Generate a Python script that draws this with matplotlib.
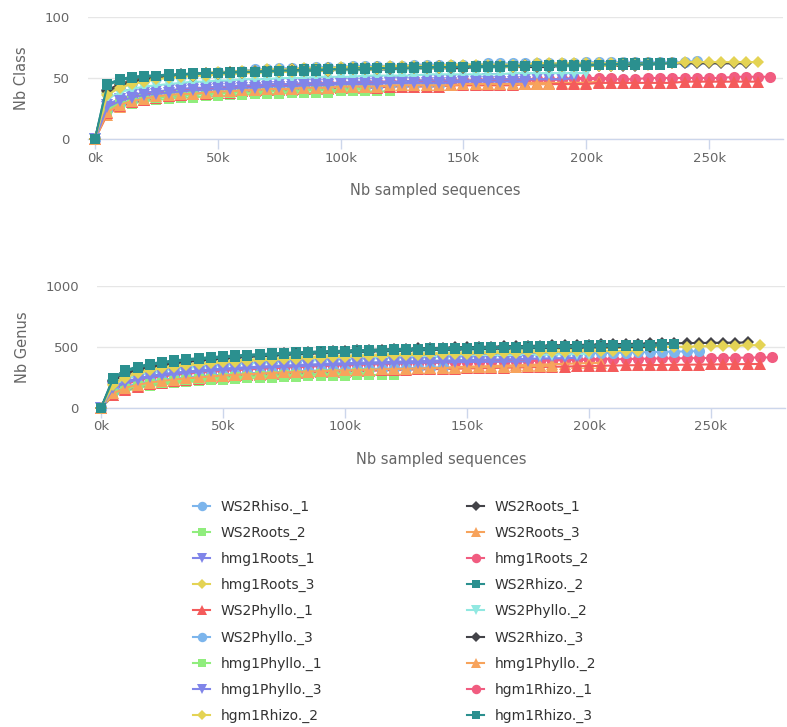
import numpy as np
import matplotlib
matplotlib.use("Agg")
import matplotlib.pyplot as plt
from matplotlib.lines import Line2D

# Rarefaction step between sampled points (sequences)
STEP = 5000

names = [
    "WS2Rhiso._1", "WS2Roots_1", "WS2Roots_2", "WS2Roots_3",
    "hmg1Roots_1", "hmg1Roots_2", "hmg1Roots_3", "WS2Rhizo._2",
    "WS2Phyllo._1", "WS2Phyllo._2", "WS2Phyllo._3", "WS2Rhizo._3",
    "hmg1Phyllo._1", "hmg1Phyllo._2", "hmg1Phyllo._3", "hgm1Rhizo._1",
    "hgm1Rhizo._2", "hgm1Rhizo._3",
]

# ---- Number of classes observed at each sampling depth ----
class_WS2Rhiso_1 = [0, 37, 43, 46, 48, 50, 51, 52, 53, 54, 55, 55, 56, 57, 57, 58, 58, 58, 59, 59,
                    59, 60, 60, 60, 60, 60, 61, 61, 61, 61, 61, 61, 62, 62, 62, 62, 62, 62, 62, 62,
                    63, 63, 63, 63, 63, 63, 63, 63, 63, 64]
class_WS2Roots_1 = [0, 40, 45, 48, 50, 51, 52, 53, 53, 54, 54, 55, 55, 56, 56, 56, 57, 57, 57, 58,
                    58, 58, 58, 59, 59, 59, 59, 59, 60, 60, 60, 60, 60, 60, 60, 61, 61, 61, 61, 61,
                    61, 61, 61, 61, 62, 62, 62, 62, 62, 62, 62, 62, 62, 62]
class_WS2Roots_2 = [0, 22, 27, 29, 31, 32, 33, 34, 34, 35, 35, 36, 36, 37, 37, 37, 38, 38, 38, 38,
                    39, 39, 39, 39, 39]
class_WS2Roots_3 = [0, 20, 26, 30, 32, 34, 35, 36, 37, 38, 38, 39, 39, 40, 40, 41, 41, 41, 42, 42,
                    42, 43, 43, 43, 43, 44, 44, 44, 44, 44, 45, 45, 45, 45, 45, 46, 46, 46, 46, 46,
                    46, 47]
class_hmg1Roots_1 = [0, 28, 33, 36, 38, 39, 40, 41, 42, 42, 43, 43, 44, 44, 45, 45, 45, 46, 46, 46,
                     46, 47, 47, 47, 47, 47, 48, 48, 48, 48, 48, 48, 49, 49, 49, 49, 49, 49, 49, 50]
class_hmg1Roots_2 = [0, 26, 31, 34, 36, 37, 38, 39, 40, 41, 41, 42, 42, 43, 43, 44, 44, 44, 45, 45,
                     45, 45, 46, 46, 46, 46, 47, 47, 47, 47, 47, 48, 48, 48, 48, 48, 48, 48, 49, 49,
                     49, 49, 49, 49, 49, 50, 50, 50, 50, 50, 50, 50, 51, 51, 51, 51]
class_hmg1Roots_3 = [0, 38, 44, 47, 49, 50, 51, 52, 53, 54, 55, 55, 56, 56, 57, 57, 57, 58, 58, 58,
                     59, 59, 59, 59, 60, 60, 60, 60, 60, 61, 61, 61, 61, 61, 61, 61, 62, 62, 62, 62,
                     62, 62, 62, 62, 62, 62, 62, 62, 63, 63, 63, 63, 63, 63, 63]
class_WS2Rhizo_2 = [0, 45, 49, 51, 52, 52, 53, 53, 54, 54, 54, 55, 55, 55, 56, 56, 56, 57, 57, 57,
                    57, 58, 58, 58, 58, 58, 59, 59, 59, 59, 59, 60, 60, 60, 60, 60, 60, 61, 61, 61,
                    61, 61, 61, 62, 62, 62, 62, 62]
class_WS2Phyllo_1 = [0, 21, 27, 30, 32, 34, 35, 36, 37, 37, 38, 38, 39, 39, 40, 40, 40, 41, 41, 41,
                     42, 42, 42, 42, 43, 43, 43, 43, 43, 44, 44, 44, 44, 44, 44, 45, 45, 45, 45, 45,
                     45, 46, 46, 46, 46, 46, 46, 46, 47, 47, 47, 47, 47, 47, 47]
class_WS2Phyllo_2 = [0, 33, 38, 41, 43, 44, 45, 46, 47, 47, 48, 48, 49, 49, 49, 50, 50, 50, 51, 51,
                     51, 51, 52, 52, 52, 52, 52, 53, 53, 53, 53, 53, 53, 53, 54, 54, 54, 54, 54, 54,
                     54]
class_WS2Phyllo_3 = [0, 24, 29, 32, 34, 35, 36, 37, 38, 38, 39, 39, 40, 40, 41, 41, 41, 42, 42, 42,
                     43, 43, 43, 43, 44, 44, 44, 44, 44]
class_WS2Rhizo_3 = [0, 39, 44, 47, 49, 50, 51, 52, 52, 53, 53, 54, 54, 55, 55, 55, 56, 56, 56, 56,
                    57, 57, 57, 57, 57, 58, 58, 58, 58, 58, 58, 59, 59, 59, 59, 59, 59, 59, 60, 60,
                    60, 60, 60, 60, 60]
class_hmg1Phyllo_1 = [0, 25, 29, 31, 33, 34, 35, 36, 36, 37, 37, 38, 38, 38, 39, 39, 39, 40, 40, 40,
                      40, 41, 41]
class_hmg1Phyllo_2 = [0, 22, 28, 31, 33, 35, 36, 37, 37, 38, 39, 39, 40, 40, 41, 41, 41, 42, 42, 42,
                      43, 43, 43, 43, 44, 44, 44, 44, 44, 44, 45, 45, 45, 45, 45, 45, 45, 45]
class_hmg1Phyllo_3 = [0, 26, 31, 34, 36, 37, 38, 39, 40, 40, 41, 41, 42, 42, 43, 43, 43, 44, 44, 44,
                      45, 45, 45, 45, 46, 46, 46, 46, 46, 46, 47, 47, 47, 47, 47, 47]
class_hgm1Rhizo_1 = [0, 27, 32, 35, 37, 38, 39, 40, 41, 42, 42, 43, 43, 44, 44, 45, 45, 45, 46, 46,
                     46, 46, 47, 47, 47, 47, 48, 48, 48, 48, 48, 48, 49, 49, 49, 49, 49, 49, 49, 50,
                     50, 50, 50]
class_hgm1Rhizo_2 = [0, 36, 42, 45, 47, 49, 50, 51, 52, 52, 53, 53, 54, 54, 55, 55, 55, 56, 56, 56,
                     57, 57, 57, 57, 58, 58, 58, 58, 58, 59, 59, 59, 59, 59, 59, 60, 60, 60, 60, 60,
                     60, 60, 60, 61, 61, 61]
class_hgm1Rhizo_3 = [0, 44, 48, 50, 51, 52, 52, 53, 53, 54, 54, 54, 55, 55, 55, 56, 56, 56, 56, 57,
                     57, 57, 57, 58, 58, 58, 58, 58, 59, 59, 59, 59, 59, 59, 60, 60, 60, 60, 60, 60,
                     60, 61, 61, 61, 61, 61, 61]

# ---- Number of genera observed at each sampling depth ----
genus_WS2Rhiso_1 = [0, 180, 235, 268, 290, 307, 320, 331, 340, 348, 355, 362, 368, 373, 378, 383,
                    387, 391, 395, 399, 402, 405, 408, 411, 414, 417, 420, 422, 424, 426, 428, 430,
                    432, 434, 436, 438, 440, 442, 444, 446, 448, 450, 452, 454, 456, 458, 460, 462,
                    464, 466]
genus_WS2Roots_1 = [0, 230, 290, 323, 346, 363, 377, 389, 399, 408, 416, 423, 430, 436, 442, 447,
                    452, 457, 461, 465, 469, 473, 476, 479, 482, 485, 488, 491, 494, 497, 499, 501,
                    503, 505, 507, 509, 511, 513, 515, 517, 519, 521, 523, 525, 527, 529, 530, 531,
                    532, 533, 534, 535, 536, 537]
genus_WS2Roots_2 = [0, 100, 140, 163, 180, 193, 203, 212, 219, 226, 232, 237, 242, 246, 250, 253,
                    256, 259, 262, 264, 266, 268, 270, 272, 274]
genus_WS2Roots_3 = [0, 110, 155, 182, 200, 215, 227, 237, 246, 254, 261, 267, 273, 278, 283, 288,
                    292, 296, 300, 304, 308, 311, 314, 317, 320, 323, 326, 329, 332, 335, 338, 341,
                    344, 347, 350, 353, 356, 359, 362, 365, 368, 371]
genus_hmg1Roots_1 = [0, 170, 215, 243, 262, 277, 289, 299, 308, 316, 323, 329, 334, 339, 344, 348,
                     352, 356, 360, 364, 367, 370, 373, 376, 379, 382, 385, 387, 389, 391, 393, 395,
                     397, 399, 401, 403, 405, 407, 409, 411]
genus_hmg1Roots_2 = [0, 150, 195, 223, 243, 258, 270, 280, 289, 297, 304, 310, 316, 321, 326, 331,
                     335, 339, 343, 347, 350, 353, 356, 359, 362, 365, 367, 369, 371, 373, 375, 377,
                     379, 381, 383, 385, 387, 389, 391, 393, 395, 397, 399, 401, 403, 405, 406, 407,
                     408, 409, 410, 411, 412, 413, 414, 415]
genus_hmg1Roots_3 = [0, 200, 260, 295, 318, 335, 348, 359, 368, 376, 383, 390, 396, 401, 406, 411,
                     415, 419, 423, 427, 430, 433, 436, 439, 442, 445, 447, 450, 452, 455, 458, 461,
                     464, 467, 470, 473, 476, 479, 482, 485, 487, 489, 491, 493, 495, 497, 499, 501,
                     503, 505, 507, 509, 511, 513, 515]
genus_WS2Rhizo_2 = [0, 250, 310, 340, 362, 378, 390, 400, 409, 417, 424, 431, 437, 442, 447, 452,
                    456, 460, 464, 467, 470, 473, 476, 479, 482, 484, 487, 489, 491, 493, 495, 497,
                    499, 501, 503, 505, 507, 508, 510, 511, 513, 514, 516, 517, 519, 520, 522, 523]
genus_WS2Phyllo_1 = [0, 105, 148, 175, 194, 209, 221, 231, 240, 248, 255, 261, 267, 272, 277, 281,
                     285, 289, 293, 296, 299, 302, 305, 308, 311, 314, 316, 318, 320, 322, 324, 326,
                     328, 330, 332, 334, 336, 338, 340, 342, 344, 346, 348, 350, 351, 352, 353, 354,
                     355, 356, 357, 358, 359, 360, 361]
genus_WS2Phyllo_2 = [0, 190, 240, 270, 290, 305, 317, 328, 337, 345, 352, 359, 365, 370, 375, 380,
                     384, 388, 392, 396, 399, 402, 405, 408, 411, 414, 416, 418, 420, 422, 424, 426,
                     428, 430, 432, 434, 436, 438, 440, 442, 444]
genus_WS2Phyllo_3 = [0, 130, 175, 200, 218, 232, 243, 252, 260, 267, 273, 279, 284, 289, 293, 297,
                     301, 305, 308, 311, 314, 317, 320, 322, 324, 326, 328, 330, 332]
genus_WS2Rhizo_3 = [0, 220, 280, 313, 336, 353, 367, 378, 388, 397, 405, 412, 418, 424, 430, 435,
                    440, 444, 448, 452, 456, 459, 462, 465, 468, 471, 473, 475, 477, 479, 481, 483,
                    485, 487, 489, 491, 492, 493, 494, 495, 496, 497, 498, 499, 500, 501]
genus_hmg1Phyllo_1 = [0, 115, 155, 178, 195, 208, 218, 227, 234, 241, 247, 252, 257, 261, 265, 268,
                      271, 274, 277, 280, 282, 284, 286]
genus_hmg1Phyllo_2 = [0, 120, 165, 190, 208, 222, 233, 243, 251, 259, 266, 272, 277, 282, 287, 291,
                      295, 299, 302, 305, 308, 311, 314, 317, 320, 322, 324, 326, 328, 330, 332, 334,
                      336, 338, 340, 342, 344, 346]
genus_hmg1Phyllo_3 = [0, 160, 205, 233, 252, 267, 279, 289, 298, 306, 313, 319, 324, 329, 334, 338,
                      342, 346, 350, 353, 356, 359, 362, 364, 366, 368, 370, 372, 374, 376, 377, 378,
                      379, 380, 381, 382]
genus_hgm1Rhizo_1 = [0, 155, 200, 228, 248, 263, 275, 285, 294, 302, 309, 315, 321, 326, 331, 336,
                     340, 344, 348, 352, 355, 358, 361, 364, 367, 370, 372, 374, 376, 378, 380, 382,
                     384, 386, 388, 390, 392, 394, 396, 398, 400, 402, 404]
genus_hgm1Rhizo_2 = [0, 190, 250, 285, 308, 325, 338, 349, 358, 366, 373, 380, 386, 391, 396, 401,
                     405, 409, 413, 417, 420, 423, 426, 429, 432, 435, 437, 440, 442, 444, 446, 448,
                     450, 452, 454, 456, 458, 460, 462, 464, 465, 466, 467, 468, 469]
genus_hgm1Rhizo_3 = [0, 240, 298, 330, 352, 368, 380, 390, 399, 407, 414, 421, 427, 432, 437, 442,
                     446, 450, 454, 457, 460, 463, 466, 469, 472, 474, 477, 479, 481, 483, 485, 487,
                     489, 491, 493, 495, 497, 498, 500, 501, 503, 504, 506, 507, 509, 510, 512]

class_series = [class_WS2Rhiso_1, class_WS2Roots_1, class_WS2Roots_2, class_WS2Roots_3,
                class_hmg1Roots_1, class_hmg1Roots_2, class_hmg1Roots_3, class_WS2Rhizo_2,
                class_WS2Phyllo_1, class_WS2Phyllo_2, class_WS2Phyllo_3, class_WS2Rhizo_3,
                class_hmg1Phyllo_1, class_hmg1Phyllo_2, class_hmg1Phyllo_3, class_hgm1Rhizo_1,
                class_hgm1Rhizo_2, class_hgm1Rhizo_3]
genus_series = [genus_WS2Rhiso_1, genus_WS2Roots_1, genus_WS2Roots_2, genus_WS2Roots_3,
                genus_hmg1Roots_1, genus_hmg1Roots_2, genus_hmg1Roots_3, genus_WS2Rhizo_2,
                genus_WS2Phyllo_1, genus_WS2Phyllo_2, genus_WS2Phyllo_3, genus_WS2Rhizo_3,
                genus_hmg1Phyllo_1, genus_hmg1Phyllo_2, genus_hmg1Phyllo_3, genus_hgm1Rhizo_1,
                genus_hgm1Rhizo_2, genus_hgm1Rhizo_3]

x_ticks = [0, 50000, 100000, 150000, 200000, 250000]
x_tick_labels = ["0k", "50k", "100k", "150k", "200k", "250k"]
class_ticks = [0, 50, 100]
genus_ticks = [0, 500, 1000]

# ---- Styling (Highcharts-like palette and symbols) ----
palette = ["#7cb5ec", "#434348", "#90ed7d", "#f7a35c", "#8085e9",
           "#f15c80", "#e4d354", "#2b908f", "#f45b5b", "#91e8e1"]
symbols = ["o", "D", "s", "^", "v"]
colors = [palette[i % len(palette)] for i in range(len(names))]
markers = [symbols[i % len(symbols)] for i in range(len(names))]
msizes = {"o": 8.0, "D": 6.4, "s": 7.6, "^": 8.0, "v": 8.0}
layer = [2 + i * 0.1 for i in range(len(names))]
layer[5] = 1.5   # pink curves sit underneath the others
layer[15] = 1.6

GRID = "#e6e6e6"
AXIS = "#ccd6eb"
LABEL = "#666666"

fig = plt.figure(figsize=(7.87, 7.27), dpi=100)
W, H = 787.0, 727.0


def make_axes(left, right, top, bottom):
    return fig.add_axes([left / W, 1 - bottom / H, (right - left) / W, (bottom - top) / H])


def style_axes(ax, yticks, ylabel, xlim):
    ax.set_xlim(*xlim)
    ax.set_ylim(yticks[0], yticks[-1])
    ax.set_yticks(yticks)
    ax.set_yticklabels([str(t) for t in yticks])
    ax.set_xticks(x_ticks)
    ax.set_xticklabels(x_tick_labels)
    for s in ("top", "right", "left"):
        ax.spines[s].set_visible(False)
    ax.spines["bottom"].set_color(AXIS)
    ax.spines["bottom"].set_linewidth(1.0)
    ax.spines["bottom"].set_zorder(0.5)
    ax.yaxis.grid(True, color=GRID, linewidth=1.0)
    ax.set_axisbelow(True)
    ax.tick_params(axis="y", length=0, pad=13, labelsize=9.5, labelcolor=LABEL)
    ax.tick_params(axis="x", length=7, width=1, color=AXIS, pad=2,
                   labelsize=9.5, labelcolor=LABEL)
    ax.set_xlabel("Nb sampled sequences", fontsize=10.5, color=LABEL, labelpad=13)
    ax.set_ylabel(ylabel, fontsize=10.5, color=LABEL, labelpad=11)


def draw(ax, series):
    for i, vals in enumerate(series):
        xs = np.arange(len(vals)) * STEP
        ax.plot(xs, vals, color=colors[i], lw=1.5, marker=markers[i],
                ms=msizes[markers[i]], mew=0,
                zorder=layer[i], clip_on=False)


ax1 = make_axes(88, 783, 17, 139)
draw(ax1, class_series)
style_axes(ax1, class_ticks, "Nb Class", (-2850, 280100))

ax2 = make_axes(97, 785, 286, 408)
draw(ax2, genus_series)
style_axes(ax2, genus_ticks, "Nb Genus", (-1640, 280300))

# ---- Legend in two columns, filled row by row ----
handles = [Line2D([0], [0], color=colors[i], lw=1.5, marker=markers[i],
                  ms=msizes[markers[i]] * 0.85, mew=0) for i in range(len(names))]
leg_kw = dict(frameon=False, fontsize=10, labelcolor="#333333", handlelength=1.25,
              handletextpad=0.75, labelspacing=0.86, borderpad=0, borderaxespad=0,
              loc="upper left")
left_idx = list(range(0, len(names), 2))
right_idx = list(range(1, len(names), 2))
fig.legend([handles[i] for i in left_idx], [names[i] for i in left_idx],
           bbox_to_anchor=(193 / W, 1 - 500 / H), **leg_kw)
fig.legend([handles[i] for i in right_idx], [names[i] for i in right_idx],
           bbox_to_anchor=(467 / W, 1 - 500 / H), **leg_kw)

fig.savefig("out.png", dpi=100, facecolor="white")
